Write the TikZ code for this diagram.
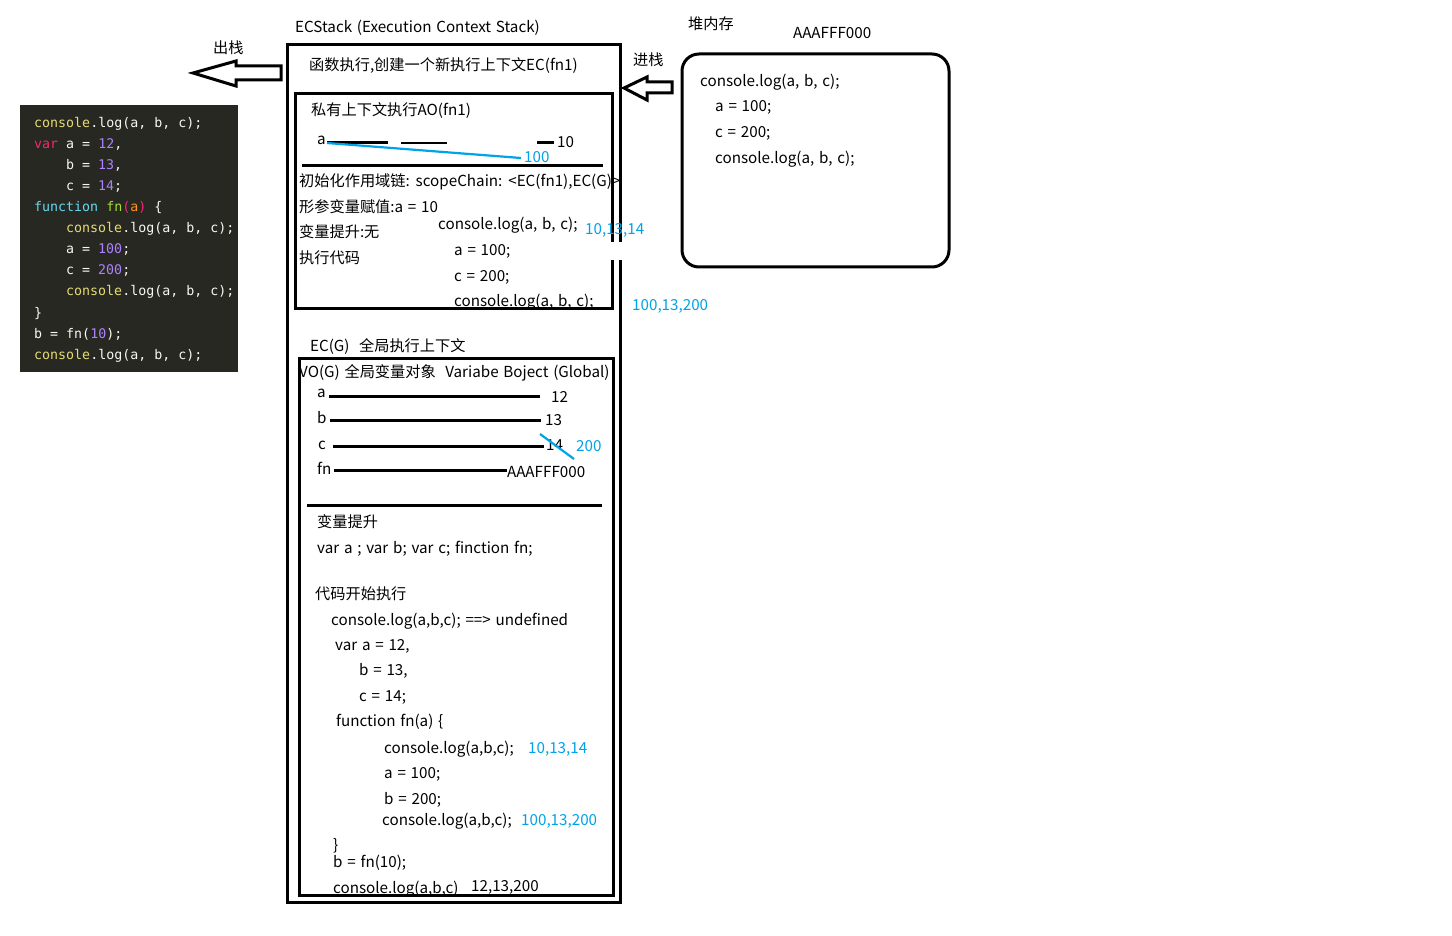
\documentclass[tikz,border=0pt]{standalone}
\usepackage{fontspec}
\newfontfamily\cjk[WordSpace=1.4]{Noto Sans CJK SC}
\newfontfamily\codefont{DejaVu Sans Mono}
\definecolor{hiblue}{RGB}{0,162,232}
\definecolor{codebg}{RGB}{39,40,34}
\definecolor{cwhite}{RGB}{248,248,242}
\definecolor{cyel}{RGB}{230,219,116}
\definecolor{cred}{RGB}{249,38,114}
\definecolor{cpur}{RGB}{174,129,255}
\definecolor{ccyan}{RGB}{102,217,239}
\definecolor{cgreen}{RGB}{166,226,46}
\definecolor{corange}{RGB}{253,151,31}
\tikzset{
  txt/.style={anchor=base west, inner sep=0pt, font=\cjk\fontsize{15.2}{18}\selectfont, text=black},
  btxt/.style={txt, text=hiblue},
  code/.style={anchor=base west, inner sep=0pt, font=\codefont\fontsize{13.3}{16}\selectfont, text=cwhite},
  boxline/.style={line width=3pt},
  varline/.style={line width=3pt},
  blockarrow/.style={line width=3pt, line join=miter, fill=white}
}
\newcommand{\cY}[1]{\textcolor{cyel}{#1}}
\newcommand{\cR}[1]{\textcolor{cred}{#1}}
\newcommand{\cP}[1]{\textcolor{cpur}{#1}}
\newcommand{\cC}[1]{\textcolor{ccyan}{#1}}
\newcommand{\cG}[1]{\textcolor{cgreen}{#1}}
\newcommand{\cO}[1]{\textcolor{corange}{#1}}
\begin{document}
\begin{tikzpicture}[x=1pt,y=-1pt]
\fill[white] (0,0) rectangle (1452,936);
\useasboundingbox (0,0) rectangle (1452,936);

% ---------- code block ----------
\fill[codebg] (20,105) rectangle (238,372);
\node[code] (c1) at (34,128) {\cY{console}.log(a, b, c);};
\node[code] (c2) at (34,149) {\cR{var} a = \cP{12},};
\node[code] (c3) at (66,170) {b = \cP{13},};
\node[code] (c4) at (66,191) {c = \cP{14};};
\node[code] (c5) at (34,212) {\cC{function} \cG{fn}\cR{(}\cO{a}\cR{)} \{};
\node[code] (c6) at (66,233) {\cY{console}.log(a, b, c);};
\node[code] (c7) at (66,254) {a = \cP{100};};
\node[code] (c8) at (66,275) {c = \cP{200};};
\node[code] (c9) at (66,296) {\cY{console}.log(a, b, c);};
\node[code] (c10) at (34,317) {\}};
\node[code] (c11) at (34,338) {b = fn(\cP{10});};
\node[code] (c12) at (34,359) {\cY{console}.log(a, b, c);};

% ---------- block arrows ----------
\node[txt] (out) at (213,54) {出栈};
\draw[blockarrow] (193,73) -- (236,61) -- (236,66) -- (281,66) -- (281,80) -- (236,80) -- (236,86) -- cycle;
\node[txt] (in) at (633,66) {进栈};
\draw[blockarrow] (624,88) -- (647,77) -- (647,82) -- (672,82) -- (672,93) -- (647,93) -- (647,100) -- cycle;

% ---------- ECStack outer box ----------
\node[txt] (ecs) at (295,33) {ECStack (Execution Context Stack)};
\draw[boxline] (620,242) -- (620,45) -- (287,45) -- (287,902) -- (620,902) -- (620,260);

% ---------- AO box ----------
\node[txt] (fnexec) at (309,71) {函数执行,创建一个新执行上下文EC(fn1)};
\draw[boxline] (612,242) -- (612,94) -- (295,94) -- (295,309) -- (612,309) -- (612,260);
\node[txt] (ao) at (311,116) {私有上下文执行AO(fn1)};
\node[txt] (aoa) at (317,145) {a};
\draw[line width=3pt] (327,143) -- (388,143);
\draw[line width=1.5pt] (401,143) -- (447,143);
\draw[line width=3pt] (537,143) -- (554,143);
\node[txt] (ao10) at (557,148) {10};
\draw[hiblue, line width=2.2pt] (327,143) -- (521,158);
\node[btxt] (ao100) at (524,163) {100};
\draw[line width=3pt] (302,166) -- (603,166);
\node[txt] (sc) at (299,187) {初始化作用域链: scopeChain: <EC(fn1),EC(G)>};
\node[txt] (fp) at (299,213) {形参变量赋值:a = 10};
\node[txt] (hoist1) at (299,238) {变量提升:无};
\node[txt] (run1) at (299,264) {执行代码};
\node[txt] (l1) at (438,230) {console.log(a, b, c);};
\node[btxt] (r1) at (585,235) {10,13,14};
\node[txt] (l2) at (454,256) {a = 100;};
\node[txt] (l3) at (454,282) {c = 200;};
\node[txt] (l4) at (454,307) {console.log(a, b, c);};
\node[btxt] (r2) at (632,310) {100,13,200};

% ---------- heap ----------
\node[txt] (heap) at (688,30) {堆内存};
\node[txt] (addr) at (793,39) {AAAFFF000};
\draw[boxline, rounded corners=17pt] (682,54) rectangle (949,267);
\node[txt] (h1) at (700,87) {console.log(a, b, c);};
\node[txt] (h2) at (715,112) {a = 100;};
\node[txt] (h3) at (715,138) {c = 200;};
\node[txt] (h4) at (715,164) {console.log(a, b, c);};

% ---------- EC(G) ----------
\node[txt] (ecg) at (310,351) {EC(G)\ \ 全局执行上下文};
\node[txt] (vo) at (299,377) {VO(G) 全局变量对象\ \ Variabe Boject (Global)};
\draw[boxline] (299,358) rectangle (613,895);
\node[txt] (va) at (317,397) {a};
\draw[varline] (329,396) -- (540,396);
\node[txt] (v12) at (551,402) {12};
\node[txt] (vb) at (317,423) {b};
\draw[varline] (330,420) -- (541,420);
\node[txt] (v13) at (545,425) {13};
\node[txt] (vc) at (318,449) {c};
\draw[varline] (333,446) -- (544,446);
\node[txt] (v14) at (546,450) {14};
\draw[hiblue, line width=2.2pt] (540,434) -- (574,459);
\node[btxt] (v200) at (576,451) {200};
\node[txt] (vfn) at (317,474) {fn};
\draw[varline] (334,470) -- (507,470);
\node[txt] (vaddr) at (507,477) {AAAFFF000};
\draw[line width=3pt] (307,505) -- (602,505);

\node[txt] (g1) at (317,527) {变量提升};
\node[txt] (g2) at (317,553) {var a ; var b; var c; finction fn;};
\node[txt] (g3) at (315,599) {代码开始执行};
\node[txt] (g4) at (331,625) {console.log(a,b,c); ==> undefined};
\node[txt] (g5) at (335,650) {var a = 12,};
\node[txt] (g6) at (359,675) {b = 13,};
\node[txt] (g7) at (359,701) {c = 14;};
\node[txt] (g8) at (336,726) {function fn(a) \{};
\node[txt] (g9) at (384,753) {console.log(a,b,c);};
\node[btxt] (g9r) at (528,753) {10,13,14};
\node[txt] (g10) at (384,778) {a = 100;};
\node[txt] (g11) at (384,804) {b = 200;};
\node[txt] (g12) at (382,825) {console.log(a,b,c);};
\node[btxt] (g12r) at (521,825) {100,13,200};
\node[txt] (g13) at (333,850) {\}};
\node[txt] (g14) at (333,867) {b = fn(10);};
\node[txt] (g15) at (333,893) {console.log(a,b,c)};
\node[txt] (g15r) at (471,891) {12,13,200};
\end{tikzpicture}
\end{document}
